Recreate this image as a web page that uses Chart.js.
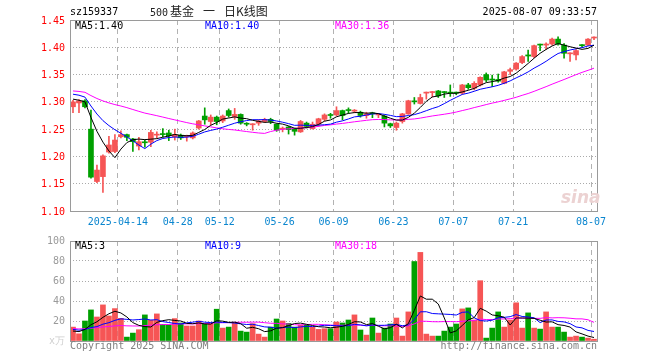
<!DOCTYPE html>
<html>
<head>
<meta charset="utf-8">
<script src="https://cdn.jsdelivr.net/npm/chart.js@4.4.0/dist/chart.umd.min.js"></script>
<style>
    body { margin: 0; background: #fff; }
    #wrap { position: relative; width: 660px; height: 360px; overflow: hidden; font-family: 'DejaVu Sans Mono', 'Liberation Mono', monospace; font-size: 10px; }
    .t { position: absolute; white-space: nowrap; line-height: 12px; }
    .cjk { font-family: 'Noto Sans CJK SC', sans-serif; font-size: 12px; }
    canvas { position: absolute; left: 0; }
</style>
</head>
<body>
<div id="wrap">
    <canvas id="kline" width="660" height="235" style="top:0"></canvas>
    <canvas id="vol" width="660" height="125" style="top:235px"></canvas>

    <div class="t" style="left:70px;top:6px">sz159337</div>
    <div class="t" style="left:150px;top:5px;color:#222">500<span class="cjk" style="margin-left:2px">基金</span><span class="cjk" style="margin-left:9px">一</span><span class="cjk" style="margin-left:9px">日K线图</span></div>
    <div class="t" style="right:63px;top:6px">2025-08-07 09:33:57</div>

    <div class="t" id="pMa5" style="left:75px;top:20px;color:#000"></div>
    <div class="t" id="pMa10" style="left:205px;top:20px;color:#0000ff"></div>
    <div class="t" id="pMa30" style="left:335px;top:20px;color:#ff00ff"></div>

    <div class="t" id="vMa5" style="left:75px;top:240px;color:#000"></div>
    <div class="t" id="vMa10" style="left:205px;top:240px;color:#0000ff"></div>
    <div class="t" id="vMa30" style="left:335px;top:240px;color:#ff00ff"></div>

    <div class="t" style="left:561px;top:187px;font:italic bold 17px 'DejaVu Sans',sans-serif;color:#ecd2d2">sina</div>

    <div class="t" style="left:70px;top:340px;color:#808080">Copyright 2025 SINA.COM</div>
    <div class="t" style="right:63px;top:340px;color:#808080">http://finance.sina.com.cn</div>
</div>

<script>
// K-line data, 2025-04-01 .. 2025-08-07
const dates = [
    '2025-04-01', '2025-04-02', '2025-04-03', '2025-04-07', '2025-04-08', '2025-04-09', '2025-04-10', '2025-04-11', '2025-04-14', '2025-04-15',
    '2025-04-16', '2025-04-17', '2025-04-18', '2025-04-21', '2025-04-22', '2025-04-23', '2025-04-24', '2025-04-25', '2025-04-28', '2025-04-29',
    '2025-04-30', '2025-05-06', '2025-05-07', '2025-05-08', '2025-05-09', '2025-05-12', '2025-05-13', '2025-05-14', '2025-05-15', '2025-05-16',
    '2025-05-19', '2025-05-20', '2025-05-21', '2025-05-22', '2025-05-23', '2025-05-26', '2025-05-27', '2025-05-28', '2025-05-29', '2025-05-30',
    '2025-06-03', '2025-06-04', '2025-06-05', '2025-06-06', '2025-06-09', '2025-06-10', '2025-06-11', '2025-06-12', '2025-06-13', '2025-06-16',
    '2025-06-17', '2025-06-18', '2025-06-19', '2025-06-20', '2025-06-23', '2025-06-24', '2025-06-25', '2025-06-26', '2025-06-27', '2025-06-30',
    '2025-07-01', '2025-07-02', '2025-07-03', '2025-07-04', '2025-07-07', '2025-07-08', '2025-07-09', '2025-07-10', '2025-07-11', '2025-07-14',
    '2025-07-15', '2025-07-16', '2025-07-17', '2025-07-18', '2025-07-21', '2025-07-22', '2025-07-23', '2025-07-24', '2025-07-25', '2025-07-28',
    '2025-07-29', '2025-07-30', '2025-07-31', '2025-08-01', '2025-08-04', '2025-08-05', '2025-08-06', '2025-08-07'
];

const openP = [
    1.291, 1.298, 1.302, 1.250, 1.154, 1.163, 1.208, 1.209, 1.236, 1.240,
    1.232, 1.219, 1.226, 1.226, 1.239, 1.241, 1.243, 1.236, 1.239, 1.236,
    1.234, 1.252, 1.274, 1.264, 1.272, 1.265, 1.284, 1.273, 1.277, 1.260,
    1.258, 1.261, 1.264, 1.268, 1.259, 1.250, 1.254, 1.251, 1.245, 1.261,
    1.251, 1.259, 1.268, 1.276, 1.276, 1.284, 1.285, 1.283, 1.281, 1.275,
    1.279, 1.276, 1.274, 1.260, 1.253, 1.264, 1.278, 1.301, 1.297, 1.316,
    1.317, 1.320, 1.318, 1.317, 1.317, 1.316, 1.331, 1.325, 1.331, 1.350,
    1.341, 1.341, 1.334, 1.356, 1.360, 1.372, 1.386, 1.383, 1.405, 1.404,
    1.406, 1.415, 1.404, 1.388, 1.386, 1.404, 1.404, 1.417
];
const highP = [
    1.303, 1.304, 1.304, 1.285, 1.184, 1.203, 1.237, 1.240, 1.247, 1.241,
    1.233, 1.235, 1.230, 1.248, 1.245, 1.251, 1.248, 1.250, 1.241, 1.239,
    1.245, 1.266, 1.289, 1.276, 1.274, 1.276, 1.287, 1.288, 1.278, 1.262,
    1.260, 1.267, 1.270, 1.270, 1.260, 1.254, 1.255, 1.252, 1.266, 1.263,
    1.263, 1.270, 1.278, 1.279, 1.291, 1.285, 1.289, 1.286, 1.283, 1.281,
    1.281, 1.278, 1.276, 1.261, 1.263, 1.279, 1.303, 1.308, 1.314, 1.318,
    1.319, 1.321, 1.319, 1.331, 1.318, 1.332, 1.334, 1.337, 1.346, 1.353,
    1.349, 1.351, 1.356, 1.362, 1.372, 1.385, 1.395, 1.404, 1.406, 1.408,
    1.417, 1.419, 1.407, 1.390, 1.396, 1.405, 1.416, 1.419
];
const lowP = [
    1.280, 1.280, 1.289, 1.160, 1.152, 1.134, 1.206, 1.207, 1.234, 1.229,
    1.209, 1.212, 1.217, 1.218, 1.234, 1.236, 1.229, 1.230, 1.231, 1.228,
    1.232, 1.250, 1.259, 1.258, 1.258, 1.262, 1.272, 1.268, 1.259, 1.256,
    1.248, 1.257, 1.262, 1.260, 1.246, 1.245, 1.241, 1.239, 1.244, 1.252,
    1.250, 1.255, 1.265, 1.270, 1.274, 1.267, 1.279, 1.280, 1.272, 1.270,
    1.271, 1.271, 1.254, 1.253, 1.248, 1.261, 1.277, 1.296, 1.296, 1.305,
    1.309, 1.308, 1.308, 1.310, 1.313, 1.314, 1.323, 1.322, 1.329, 1.337,
    1.328, 1.336, 1.333, 1.350, 1.358, 1.370, 1.374, 1.381, 1.394, 1.396,
    1.404, 1.404, 1.380, 1.374, 1.377, 1.400, 1.403, 1.414
];
const closeP = [
    1.300, 1.302, 1.291, 1.162, 1.175, 1.201, 1.221, 1.230, 1.240, 1.235,
    1.227, 1.227, 1.225, 1.244, 1.240, 1.240, 1.238, 1.240, 1.234, 1.238,
    1.243, 1.265, 1.267, 1.272, 1.264, 1.274, 1.275, 1.277, 1.261, 1.259,
    1.259, 1.265, 1.268, 1.264, 1.248, 1.251, 1.249, 1.246, 1.264, 1.255,
    1.259, 1.269, 1.276, 1.275, 1.284, 1.275, 1.284, 1.284, 1.275, 1.278,
    1.278, 1.277, 1.261, 1.256, 1.261, 1.278, 1.302, 1.300, 1.308, 1.317,
    1.318, 1.311, 1.317, 1.316, 1.316, 1.331, 1.326, 1.334, 1.345, 1.340,
    1.340, 1.338, 1.355, 1.359, 1.371, 1.383, 1.384, 1.403, 1.404, 1.406,
    1.415, 1.406, 1.389, 1.389, 1.394, 1.403, 1.415, 1.418
];
// volume, 万
const volume = [
    13.9, 7.2, 20.0, 31.1, 24.0, 36.1, 25.0, 32.4, 22.7, 3.9,
    7.9, 11.3, 26.1, 20.7, 27.1, 16.6, 16.0, 22.4, 18.0, 15.0,
    15.0, 20.0, 17.3, 17.3, 31.8, 12.9, 13.9, 18.3, 9.9, 8.9,
    17.3, 6.9, 3.9, 13.9, 22.0, 20.0, 17.6, 13.9, 16.0, 16.0,
    13.9, 11.6, 12.3, 12.3, 19.0, 18.0, 21.0, 26.1, 11.0, 5.9,
    23.0, 7.9, 12.9, 17.0, 23.0, 4.9, 29.1, 79.5, 88.6, 6.9,
    4.9, 4.9, 9.9, 13.9, 17.0, 32.1, 33.1, 21.0, 60.3, 2.9,
    12.9, 29.1, 13.9, 21.0, 38.2, 12.9, 28.1, 12.9, 11.9, 29.1,
    13.9, 13.9, 8.9, 3.9, 4.9, 3.9, 2.9, 1.8
];

// sessions before 04-01 (off chart), only used to seed the moving averages
const prevClose = [
    1.330, 1.338, 1.342, 1.336, 1.333, 1.331, 1.322, 1.318, 1.325, 1.330,
    1.328, 1.320, 1.315, 1.312, 1.316, 1.318, 1.314, 1.310, 1.312, 1.310,
    1.320, 1.326, 1.325, 1.322, 1.322, 1.312, 1.306, 1.305, 1.302
];
const prevVolume = [
    14, 12, 16, 11, 13, 10, 15, 12, 14, 11,
    13, 12, 10, 14, 12, 13, 11, 12, 14, 14,
    15, 13, 12, 14, 12, 10, 9, 8, 9
];

// axis ticks
const tickDates = ['2025-04-14', '2025-04-28', '2025-05-12', '2025-05-26', '2025-06-09', '2025-06-23', '2025-07-07', '2025-07-21', '2025-08-07'];
const priceTicks = [1.10, 1.15, 1.20, 1.25, 1.30, 1.35, 1.40, 1.45];
const volTicks = [0, 20, 40, 60, 80, 100];

const UP = '#f65555';
const DOWN = '#00a000';
const FONT = { family: "'DejaVu Sans Mono', 'Liberation Mono', monospace", size: 10 };

function movingAvg(values, prev, n) {
    const all = prev.concat(values);
    return values.map((v, i) => {
        const end = prev.length + i + 1;
        const win = all.slice(end - n, end);
        return win.reduce((a, b) => a + b, 0) / win.length;
    });
}

const ma5 = movingAvg(closeP, prevClose, 5);
const ma10 = movingAvg(closeP, prevClose, 10);
const ma30 = movingAvg(closeP, prevClose, 30);
const vma5 = movingAvg(volume, prevVolume, 5);
const vma10 = movingAvg(volume, prevVolume, 10);
const vma30 = movingAvg(volume, prevVolume, 30);

const candleColor = closeP.map((c, i) => c >= openP[i] ? UP : DOWN);
const tickIdx = tickDates.map(d => dates.indexOf(d));

// legends
const last = dates.length - 1;
document.getElementById('pMa5').textContent = 'MA5:' + ma5[last].toFixed(2);
document.getElementById('pMa10').textContent = 'MA10:' + ma10[last].toFixed(2);
document.getElementById('pMa30').textContent = 'MA30:' + ma30[last].toFixed(2);
document.getElementById('vMa5').textContent = 'MA5:' + Math.floor(vma5[last]);
document.getElementById('vMa10').textContent = 'MA10:' + Math.floor(vma10[last]);
document.getElementById('vMa30').textContent = 'MA30:' + Math.floor(vma30[last]);

// grey frame round the plot area
const framePlugin = {
    id: 'frame',
    afterDraw(chart) {
        const { ctx, chartArea: a } = chart;
        ctx.save();
        ctx.strokeStyle = '#9a9a9a';
        ctx.lineWidth = 1;
        ctx.strokeRect(Math.round(a.left) + 0.5, Math.round(a.top) + 0.5,
            Math.round(a.right - a.left), Math.round(a.bottom - a.top));
        ctx.restore();
    }
};

function lineSet(data, color) {
    return {
        type: 'line',
        data: data,
        borderColor: color,
        borderWidth: 1,
        pointRadius: 0,
        tension: 0,
        order: 0
    };
}

function xScale(showLabels) {
    return {
        offset: true,
        grid: {
            offset: true,
            drawTicks: false,
            lineWidth: 1,
            color: c => tickIdx.includes(c.index) ? '#b2b2b2' : 'rgba(0,0,0,0)'
        },
        border: { display: false, dash: [5, 4] },
        ticks: {
            display: showLabels,
            autoSkip: false,
            maxRotation: 0,
            padding: 5,
            labelOffset: -3,
            color: '#0b86cf',
            font: FONT,
            callback: (v, i) => {
                if (!tickIdx.includes(i)) return '';
                return i === tickIdx[0] ? dates[i] : dates[i].slice(5);
            }
        },
        afterFit: s => { s.height = showLabels ? 24 : 19; }
    };
}

// y axis: fixed 70px wide, no extra room for label overflow
function fitY(s) {
    s.width = 70;
    s.paddingTop = 0;
    s.paddingBottom = 0;
}

const baseOptions = {
    responsive: false,
    animation: false,
    devicePixelRatio: 1,
    events: [],
    plugins: { legend: { display: false }, tooltip: { enabled: false } }
};

// Price chart
new Chart(document.getElementById('kline').getContext('2d'), {
    type: 'bar',
    data: {
        labels: dates,
        datasets: [
            lineSet(ma5, '#000000'),
            lineSet(ma10, '#0000ff'),
            lineSet(ma30, '#ff00ff'),
            {
                // bodies
                data: openP.map((o, i) => [o, closeP[i]]),
                backgroundColor: candleColor,
                barThickness: 5,
                minBarLength: 1,
                grouped: false,
                order: 1
            },
            {
                // wicks
                data: lowP.map((l, i) => [l, highP[i]]),
                backgroundColor: candleColor,
                barThickness: 1,
                grouped: false,
                order: 2
            }
        ]
    },
    options: {
        ...baseOptions,
        layout: { padding: { left: 0, right: 63, top: 20, bottom: 0 } },
        scales: {
            x: xScale(true),
            y: {
                min: 1.10,
                max: 1.45,
                afterBuildTicks: s => { s.ticks = priceTicks.map(v => ({ value: v })); },
                grid: { drawTicks: false, color: '#aaaaaa' },
                border: { display: false, dash: [1, 2] },
                ticks: { color: '#ff0000', padding: 5, labelOffset: 1, font: FONT, callback: v => v.toFixed(2) },
                afterFit: fitY
            }
        }
    },
    plugins: [framePlugin]
});

// Volume chart
new Chart(document.getElementById('vol').getContext('2d'), {
    type: 'bar',
    data: {
        labels: dates,
        datasets: [
            lineSet(vma5, '#000000'),
            lineSet(vma10, '#0000ff'),
            lineSet(vma30, '#ff00ff'),
            {
                data: volume,
                backgroundColor: candleColor,
                barThickness: 5,
                grouped: false,
                order: 1
            }
        ]
    },
    options: {
        ...baseOptions,
        layout: { padding: { left: 0, right: 63, top: 6, bottom: 0 } },
        scales: {
            x: xScale(false),
            y: {
                min: 0,
                max: 100,
                afterBuildTicks: s => { s.ticks = volTicks.map(v => ({ value: v })); },
                grid: { drawTicks: false, color: '#aaaaaa' },
                border: { display: false, dash: [1, 2] },
                ticks: {
                    padding: 5,
                    font: FONT,
                    color: c => c.tick.value === 0 ? '#cfcfcf' : '#9a9a9a',
                    callback: v => v === 0 ? 'x万' : String(v)
                },
                afterFit: fitY
            }
        }
    },
    plugins: [framePlugin]
});
</script>
</body>
</html>
